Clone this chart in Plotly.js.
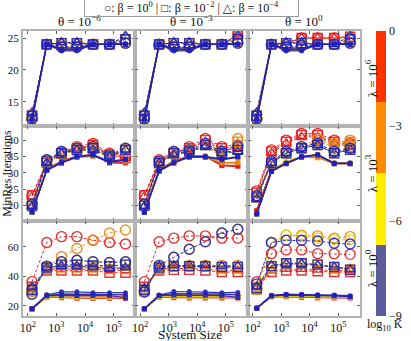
<!DOCTYPE html>
<html>
<head>
<meta charset="utf-8">
<script src="https://cdn.plot.ly/plotly-3.0.1.min.js"></script>
<style>
html, body { margin: 0; padding: 0; background: #fff; }
#chart { width: 411px; height: 341px; }
</style>
</head>
<body>
<div id="chart"></div>
<script>
// system sizes (x) and the colour / marker keys
var sizes = [140, 460, 1500, 5200, 19000, 72000, 260000];
var kLevels = [0, -3, -6, -9];
var kColors = ['#e81818', '#e8880c', '#e6d300', '#2020c0'];
var betaSymbols = ['circle', 'square', 'triangle-up'];
var thetaLabels = ['θ = 10<sup>−6</sup>', 'θ = 10<sup>−3</sup>', 'θ = 10<sup>0</sup>'];
var lambdaLabels = ['λ = 10<sup>6</sup>', 'λ = 10<sup>3</sup>', 'λ = 10<sup>0</sup>'];
var xTickVals = [1e2, 1e3, 1e4, 1e5];
var xTickText = ['10<sup>2</sup>', '10<sup>3</sup>', '10<sup>4</sup>', '10<sup>5</sup>'];
var cbTickVals = [-9, -6, -3, 0];
var cbTickText = ['−9', '−6', '−3', '0'];

// rows of each panel: K=0 (circ, sq, tri), K=-3 (...), K=-6 (...), K=-9 (...)
// "open" = dashed lines / open markers, "fill" = solid lines / filled markers

// lambda = 1e6
var openR1C1 = [
	[12.3, 24, 23.6, 23.6, 24, 24, 24.2], [12.8, 24, 24.2, 24.2, 24, 24, 24.8], [13.3, 24, 24.3, 24.3, 24, 24, 25.3],
	[12.3, 24, 23.6, 23.6, 24, 24, 24.2], [12.8, 24, 24.2, 24.2, 24, 24, 24.8], [13.3, 24, 24.3, 24.3, 24, 24, 25.3],
	[12.3, 24, 23.6, 23.6, 24, 24, 24.2], [12.8, 24, 24.2, 24.2, 24, 24, 24.8], [13.3, 24, 24.3, 24.3, 24, 24, 25.3],
	[12.3, 24, 23.6, 23.6, 24, 24, 24.2], [12.8, 24, 24.2, 24.2, 24, 24, 24.8], [13.3, 24, 24.3, 24.3, 24, 24, 25.3]
];
var fillR1C1 = [
	[12, 24, 23, 23, 24, 24, 24], [12.5, 24, 23.2, 23.2, 24, 24, 24], [12.3, 24, 23.4, 23.4, 24, 24, 24.2],
	[12, 24, 23, 23, 24, 24, 24], [12.5, 24, 23.2, 23.2, 24, 24, 24], [12.3, 24, 23.4, 23.4, 24, 24, 24.2],
	[12, 24, 23, 23, 24, 24, 24], [12.5, 24, 23.2, 23.2, 24, 24, 24], [12.3, 24, 23.4, 23.4, 24, 24, 24.2],
	[12, 24, 23, 23, 24, 24, 24], [12.5, 24, 23.2, 23.2, 24, 24, 24], [12.3, 24, 23.4, 23.4, 24, 24, 24.2]
];
var openR1C2 = [
	[12.3, 24, 23.6, 23.6, 24, 24, 25.5], [12.8, 24, 24.2, 24.2, 24, 24, 25.5], [13.3, 24, 24.3, 24.3, 24, 24, 25.6],
	[12.3, 24, 23.6, 23.6, 24, 24, 24.2], [12.8, 24, 24.2, 24.2, 24, 24, 24.8], [13.3, 24, 24.3, 24.3, 24, 24, 25.3],
	[12.3, 24, 23.6, 23.6, 24, 24, 24.2], [12.8, 24, 24.2, 24.2, 24, 24, 24.8], [13.3, 24, 24.3, 24.3, 24, 24, 25.3],
	[12.3, 24, 23.6, 23.6, 24, 24, 24.2], [12.8, 24, 24.2, 24.2, 24, 24, 24.8], [13.3, 24, 24.3, 24.3, 24, 24, 25.3]
];
var fillR1C2 = [
	[12, 24, 23, 23, 24, 24, 24], [12.5, 24, 23.2, 23.2, 24, 24, 24], [12.3, 24, 23.4, 23.4, 24, 24, 24.2],
	[12, 24, 23, 23, 24, 24, 24], [12.5, 24, 23.2, 23.2, 24, 24, 24], [12.3, 24, 23.4, 23.4, 24, 24, 24.2],
	[12, 24, 23, 23, 24, 24, 24], [12.5, 24, 23.2, 23.2, 24, 24, 24], [12.3, 24, 23.4, 23.4, 24, 24, 24.2],
	[12, 24, 23, 23, 24, 24, 24], [12.5, 24, 23.2, 23.2, 24, 24, 24], [12.3, 24, 23.4, 23.4, 24, 24, 24.2]
];
var openR1C3 = [
	[12.3, 24, 24, 25, 25, 25, 25], [12.8, 24, 24.2, 25, 25, 25, 25.2], [13.3, 24, 24.3, 25, 25, 25, 25.3],
	[12.3, 24, 23.6, 23.8, 24, 24, 24.2], [12.8, 24, 24.2, 24.2, 24, 24, 24.8], [13.3, 24, 24.3, 24.3, 24, 24, 25.3],
	[12.3, 24, 23.6, 23.8, 24, 24, 24.2], [12.8, 24, 24.2, 24.2, 24, 24, 24.8], [13.3, 24, 24.3, 24.3, 24, 24, 25.3],
	[12.3, 24, 23.6, 23.8, 24, 24, 24.2], [12.8, 24, 24.2, 24.2, 24, 24, 24.8], [13.3, 24, 24.3, 24.3, 24, 24, 25.3]
];
var fillR1C3 = [
	[12, 24, 23, 23, 24, 24, 24], [12.5, 24, 23.2, 23.2, 24, 24, 24], [12.3, 24, 23.4, 23.4, 24, 24, 24.2],
	[12, 24, 23, 23, 24, 24, 24], [12.5, 24, 23.2, 23.2, 24, 24, 24], [12.3, 24, 23.4, 23.4, 24, 24, 24.2],
	[12, 24, 23, 23, 24, 24, 24], [12.5, 24, 23.2, 23.2, 24, 24, 24], [12.3, 24, 23.4, 23.4, 24, 24, 24.2],
	[12, 24, 23, 23, 24, 24, 24], [12.5, 24, 23.2, 23.2, 24, 24, 24], [12.3, 24, 23.4, 23.4, 24, 24, 24.2]
];

// lambda = 1e3
var openR2C1 = [
	[23, 33.5, 36.5, 38, 39, 36, 35], [23.2, 33, 36, 37.5, 38.5, 35.5, 34.5], [22.8, 33, 36, 37.5, 38.5, 35.5, 34.5],
	[20.3, 33.8, 36.3, 37.3, 37.8, 35.3, 37.3], [19.8, 33.3, 35.8, 36.8, 37.3, 34.8, 36.8], [19.6, 32.8, 35.8, 36.8, 36.8, 34.8, 36.8],
	[20.5, 34, 36.5, 37.5, 38, 35.5, 37.5], [20, 33.5, 36, 37, 37.5, 35, 37], [19.8, 33, 36, 37, 37, 35, 37],
	[20.5, 34, 36.5, 37.5, 38, 35.5, 37.5], [20, 33.5, 36, 37, 37.5, 35, 37], [19.8, 33, 36, 37, 37, 35, 37]
];
var fillR2C1 = [
	[18.8, 31.2, 33.6, 35.2, 35.6, 33.2, 33.2], [18.5, 31, 33.4, 35, 35.4, 33, 33], [18.6, 31, 33.5, 35, 35.5, 33, 33],
	[18.2, 31, 33.3, 35, 35.2, 34, 33.6], [18, 30.8, 33, 34.8, 35, 33.8, 33.4], [18.1, 30.8, 33.1, 34.9, 35, 33.8, 33.5],
	[18.2, 31, 33.3, 35, 35.6, 33.4, 34.2], [18, 30.8, 33, 34.8, 35.4, 33.2, 34], [18.1, 30.8, 33.1, 34.9, 35.4, 33.2, 34],
	[18.2, 31, 33.3, 35, 35.6, 33.4, 34.2], [18, 30.8, 33, 34.8, 35.4, 33.2, 34], [18.1, 30.8, 33.1, 34.9, 35.4, 33.2, 34]
];
var openR2C2 = [
	[23, 34, 36.5, 38, 40.5, 38, 38.5], [23.2, 33.5, 36, 37.5, 40, 37.5, 38], [22.8, 33, 36, 37.5, 39.5, 37, 37.5],
	[20.5, 33.5, 36.5, 37, 39, 36, 40.5], [20, 33, 36, 36.5, 38.5, 35.5, 39.5], [19.8, 33, 35.5, 36.5, 38, 35, 39],
	[20.5, 33.5, 36.5, 37, 39, 36.5, 38], [20, 33, 36, 36.5, 38.5, 36, 37], [19.8, 33, 35.5, 36.5, 38, 36, 36.5],
	[20.5, 33.5, 36.5, 37, 39, 36.5, 38], [20, 33, 36, 36.5, 38.5, 36, 37], [19.8, 33, 35.5, 36.5, 38, 36, 36.5]
];
var fillR2C2 = [
	[18.6, 31, 33.6, 35.2, 35.2, 32.4, 32.2], [18.4, 30.8, 33.4, 35, 35, 32.2, 32], [18.5, 30.9, 33.5, 35, 35, 32.3, 32],
	[18.1, 30.7, 33.2, 35, 35, 33.2, 33.2], [17.9, 30.5, 33, 34.8, 34.8, 33, 33], [18, 30.6, 33.1, 34.9, 34.9, 33, 33],
	[18.1, 30.7, 33.2, 35, 35, 34.2, 35], [17.9, 30.5, 33, 34.8, 34.8, 34, 34.8], [18, 30.6, 33.1, 34.9, 34.9, 34, 34.8],
	[18.1, 30.7, 33.2, 35, 35, 34.2, 35], [17.9, 30.5, 33, 34.8, 34.8, 34, 34.8], [18, 30.6, 33.1, 34.9, 34.9, 34, 34.8]
];
var openR2C3 = [
	[24.5, 37, 40, 42, 42, 40, 39], [24, 36.5, 39.5, 41.5, 41.5, 39.5, 38.5], [23.5, 36, 39, 41, 41, 39, 38],
	[23, 33.5, 36.5, 38, 40.5, 39, 40], [22.5, 33, 36, 37.5, 40, 38.5, 39.5], [22, 33, 36, 37.5, 39.5, 38, 39],
	[23, 33.5, 36.5, 38, 39, 36.5, 37.5], [22.5, 33, 36, 37.5, 38.5, 36, 37], [22, 33, 36, 37.5, 38.5, 36, 37],
	[23, 33.5, 36.5, 38, 39, 36.5, 37.5], [22.5, 33, 36, 37.5, 38.5, 36, 37], [22, 33, 36, 37.5, 38.5, 36, 37]
];
var fillR2C3 = [
	[18.6, 31, 33.2, 35, 35.6, 33, 33], [18.4, 30.8, 33, 34.8, 35.4, 32.8, 32.8], [18.5, 30.9, 33.1, 34.9, 35.5, 32.9, 32.9],
	[17.6, 30.6, 33, 35, 34.8, 33, 33], [17.4, 30.4, 32.8, 34.8, 34.6, 32.8, 32.8], [17.5, 30.5, 32.9, 34.9, 34.7, 32.9, 32.9],
	[17.6, 30.6, 33.6, 35, 35.6, 33, 33], [17.4, 30.4, 32.8, 34.8, 35.4, 32.8, 32.8], [17.5, 30.5, 32.9, 34.9, 35.5, 32.9, 32.9],
	[17.6, 30.6, 33, 35, 35.6, 33, 33], [17.4, 30.4, 32.8, 34.8, 35.4, 32.8, 32.8], [17.5, 30.5, 32.9, 34.9, 35.5, 32.9, 32.9]
];

// lambda = 1e0
var openR3C1 = [
	[36.5, 63, 67, 67, 64.5, 63, 62], [33, 44, 44, 44, 44, 42.5, 42.5], [32, 45, 45, 45, 45, 44, 44],
	[30, 46, 53.5, 59, 64.5, 69.5, 71.5], [30, 45, 46, 46, 46, 45, 45], [31, 46, 47, 47, 47, 46, 46],
	[28, 47, 50, 51, 50, 49.5, 50], [31, 46, 48, 48, 47.5, 47, 48], [33, 46, 47, 47, 46.5, 45, 46],
	[28, 47, 50, 51, 50, 49.5, 50], [31, 46, 48, 48, 47.5, 47, 48], [33, 46, 47, 47, 46.5, 45, 46]
];
var fillR3C1 = [
	[18.2, 27, 27.5, 27.5, 27, 27, 27], [18, 26, 25.6, 25.2, 25.2, 25.2, 25.2], [18.1, 26.5, 26.5, 26, 26, 26, 26],
	[18.2, 27.2, 28, 28, 27.5, 27.5, 27.5], [18, 26.4, 26, 25.6, 25.6, 25.6, 25.6], [18.1, 26.8, 27, 26.6, 26.6, 26.6, 26.6],
	[18.2, 27.4, 28.5, 28.5, 28, 28, 28], [18, 26.6, 26.4, 26, 26, 26, 26], [18.1, 27, 27.5, 27, 27, 27, 27],
	[18.2, 27.6, 29.6, 29.6, 29, 29, 29], [18, 27, 27, 27, 27, 27, 25.6], [18.1, 27.2, 28, 28, 28, 27.6, 27.6]
];
var openR3C2 = [
	[36.5, 63.5, 66, 67.5, 67.5, 66, 66], [33, 44, 44.5, 44.5, 44, 43, 43], [32, 45, 45.5, 45.5, 45, 44, 44],
	[31, 46, 47, 47.5, 47.5, 47.5, 47.5], [30, 45, 46.5, 46.5, 46.5, 46, 46], [31, 46, 47, 47, 47, 46.5, 46.5],
	[29.5, 47.5, 53, 58.5, 63.5, 69.5, 72], [31, 46, 47, 47, 47, 46.5, 46.5], [32, 47, 47.5, 47.5, 47.5, 47, 47],
	[29.5, 47.5, 53, 58.5, 63.5, 69.5, 72], [31, 46, 47, 47, 47, 46.5, 46.5], [32, 47, 47.5, 47.5, 47.5, 47, 47]
];
var fillR3C2 = [
	[18.2, 26.8, 27.5, 27.5, 27.5, 27.5, 27.5], [18, 26, 25.6, 25.4, 25.4, 25.4, 25.4], [18.1, 26.4, 26.5, 26.3, 26.3, 26.3, 26.3],
	[18.2, 27, 28, 28, 28, 27.8, 27.8], [18, 26.3, 26.2, 26, 26, 26, 26], [18.1, 26.6, 27, 26.8, 26.8, 26.8, 26.8],
	[18.2, 27.2, 28.6, 28.6, 28.4, 28.2, 28], [18, 26.5, 26.6, 26.4, 26.4, 26.4, 26.4], [18.1, 26.8, 27.4, 27.2, 27.2, 27.2, 27.2],
	[18.2, 27.4, 29.8, 29.8, 29.4, 29, 29.2], [18, 27, 27.4, 27.4, 27.2, 27, 25.8], [18.1, 27.2, 28.4, 28.4, 28.2, 28, 27.6]
];
var openR3C3 = [
	[36.5, 55.5, 58, 58, 55.5, 55.5, 55], [32, 43, 44, 44, 43.5, 43, 43], [33, 44, 45, 45, 44.5, 44, 44],
	[33, 63, 68, 68, 67.5, 66, 67], [31, 46, 48, 48.5, 48, 46, 45], [32, 47, 48.5, 49, 48, 46, 45],
	[32, 63, 68, 67, 66, 65, 65], [32, 47, 49, 49, 48, 46.5, 44.5], [33, 47.5, 48.5, 48.5, 47.5, 46.5, 45],
	[35, 63, 64.5, 64.5, 64, 62.5, 62], [32, 47, 49, 49, 48, 46.5, 44.5], [33, 47.5, 48.5, 48.5, 47.5, 46.5, 45]
];
var fillR3C3 = [
	[18.6, 26.6, 26.8, 26.4, 26, 26, 26], [18.4, 26.2, 26.2, 25.8, 25.4, 25.4, 25.4], [18.5, 26.4, 26.5, 26.1, 25.7, 25.7, 25.7],
	[18.6, 26.8, 27.2, 26.8, 26.4, 26.4, 26.4], [18.4, 26.4, 26.6, 26.2, 25.8, 25.8, 25.8], [18.5, 26.6, 26.9, 26.5, 26.1, 26.1, 26.1],
	[18.6, 27, 27.4, 27.2, 26.8, 26.8, 26.6], [18.4, 26.6, 26.8, 26.6, 26.2, 26.2, 26], [18.5, 26.8, 27.1, 26.9, 26.5, 26.5, 26.3],
	[18.6, 27.2, 28, 28, 27.6, 27.4, 27], [18.4, 26.8, 27.4, 27.4, 27, 26.8, 26.2], [18.5, 27, 27.7, 27.7, 27.3, 27.1, 26.6]
];

var openData = [[openR1C1, openR1C2, openR1C3], [openR2C1, openR2C2, openR2C3], [openR3C1, openR3C2, openR3C3]];
var fillData = [[fillR1C1, fillR1C2, fillR1C3], [fillR2C1, fillR2C2, fillR2C3], [fillR3C1, fillR3C2, fillR3C3]];

var yRanges = [[11.2, 26.1], [15.3, 44.3], [13.2, 77.6]];
var yDticks = [5, 5, 20];

var serif = 'Liberation Serif, DejaVu Serif, serif';
var frameColor = '#b3b3b3';
var textColor = '#111';

var data = [];
var layout = {
	width: 411,
	height: 341,
	margin: { l: 23, r: 45, t: 31, b: 25 },
	paper_bgcolor: '#fff',
	plot_bgcolor: '#fff',
	showlegend: false,
	font: { family: serif, size: 12, color: textColor },
	annotations: []
};

for (var r = 0; r < 3; r++) {
	for (var c = 0; c < 3; c++) {
		var idx = r * 3 + c + 1;
		var ax = idx === 1 ? '' : String(idx);
		var openRows = openData[r][c];
		var fillRows = fillData[r][c];
		for (var k = 0; k < kLevels.length; k++) {
			for (var b = 0; b < betaSymbols.length; b++) {
				var s = k * 3 + b;
				data.push({
					x: sizes,
					y: fillRows[s],
					xaxis: 'x' + ax,
					yaxis: 'y' + ax,
					type: 'scatter',
					mode: 'lines+markers',
					opacity: 0.9,
					line: { color: kColors[k], width: 1.2 },
					marker: { symbol: betaSymbols[b], size: 5, color: kColors[k] },
					hoverinfo: 'skip'
				});
				data.push({
					x: sizes,
					y: openRows[s],
					xaxis: 'x' + ax,
					yaxis: 'y' + ax,
					type: 'scatter',
					mode: 'lines+markers',
					opacity: 0.9,
					line: { color: kColors[k], width: 1, dash: '3px,2px' },
					marker: {
						symbol: betaSymbols[b] + '-open',
						size: b === 0 ? 10 : 9,
						color: kColors[k],
						line: { width: 1.4, color: kColors[k] }
					},
					hoverinfo: 'skip'
				});
			}
		}

		layout['xaxis' + ax] = {
			domain: [c / 3, (c + 1) / 3],
			anchor: 'y' + ax,
			type: 'log',
			range: [1.83, 5.76],
			tickvals: xTickVals,
			ticktext: xTickText,
			showticklabels: r === 2,
			ticks: 'inside',
			ticklen: 3,
			tickcolor: '#666',
			showline: true,
			mirror: 'ticks',
			linecolor: frameColor,
			linewidth: 2,
			showgrid: false,
			zeroline: false,
			tickfont: { family: serif, size: 12, color: textColor }
		};
		layout['yaxis' + ax] = {
			domain: [(2 - r) / 3, (3 - r) / 3],
			anchor: 'x' + ax,
			range: yRanges[r],
			tick0: 0,
			dtick: yDticks[r],
			showticklabels: c === 0,
			ticks: 'inside',
			ticklen: 3,
			tickcolor: '#666',
			showline: true,
			mirror: 'ticks',
			linecolor: frameColor,
			linewidth: 2,
			showgrid: false,
			zeroline: false,
			tickfont: { family: serif, size: 11, color: textColor }
		};
	}
}

// dummy trace only to carry the discrete colorbar
data.push({
	x: [sizes[0]],
	y: [fillR1C1[0][0]],
	type: 'scatter',
	mode: 'markers',
	hoverinfo: 'skip',
	marker: {
		size: 1,
		opacity: 0,
		color: [kLevels[0]],
		cmin: -9,
		cmax: 0,
		colorscale: [
			[0, '#5c5c9a'], [0.25, '#5c5c9a'],
			[0.25, '#ffee00'], [0.5, '#ffee00'],
			[0.5, '#ff8c00'], [0.75, '#ff8c00'],
			[0.75, '#ff3300'], [1, '#ff3300']
		],
		showscale: true,
		colorbar: {
			x: 1.0466,
			xanchor: 'left',
			y: 0.5,
			yanchor: 'middle',
			len: 1,
			lenmode: 'fraction',
			thickness: 10,
			outlinewidth: 0,
			xpad: 0,
			ypad: 0,
			tickvals: cbTickVals,
			ticktext: cbTickText,
			ticks: '',
			tickfont: { family: serif, size: 12, color: textColor }
		}
	}
});

// column titles
for (var c2 = 0; c2 < 3; c2++) {
	layout.annotations.push({
		text: thetaLabels[c2],
		xref: 'paper', yref: 'paper',
		x: (c2 + 0.5) / 3, y: 1,
		xanchor: 'center', yanchor: 'bottom',
		showarrow: false,
		font: { family: serif, size: 13, color: textColor }
	});
}
// row labels
for (var r2 = 0; r2 < 3; r2++) {
	layout.annotations.push({
		text: lambdaLabels[r2],
		xref: 'paper', yref: 'paper',
		x: 1.032, y: (2.5 - r2) / 3,
		xanchor: 'center', yanchor: 'middle',
		textangle: -90,
		showarrow: false,
		font: { family: serif, size: 13, color: textColor }
	});
}
layout.annotations.push({
	text: '○: β = 10<sup>0</sup> | □: β = 10<sup>−2</sup> | △: β = 10<sup>−4</sup>',
	xref: 'paper', yref: 'paper',
	x: 0.501, y: 1.082,
	xanchor: 'center', yanchor: 'middle',
	width: 211,
	showarrow: false,
	bordercolor: '#999',
	borderwidth: 1,
	borderpad: 1,
	font: { family: serif, size: 12, color: textColor }
});
layout.annotations.push({
	text: 'MinRes Iterations',
	xref: 'paper', yref: 'paper',
	x: -0.05, y: 0.5,
	xanchor: 'center', yanchor: 'middle',
	textangle: -90,
	showarrow: false,
	font: { family: serif, size: 12, color: textColor }
});
layout.annotations.push({
	text: 'System Size',
	xref: 'paper', yref: 'paper',
	x: 0.496, y: -0.064,
	xanchor: 'center', yanchor: 'middle',
	showarrow: false,
	font: { family: serif, size: 13, color: textColor }
});
layout.annotations.push({
	text: 'log<sub>10</sub> K̄',
	xref: 'paper', yref: 'paper',
	x: 1.075, y: -0.03,
	xanchor: 'center', yanchor: 'middle',
	showarrow: false,
	font: { family: serif, size: 12, color: textColor }
});

var config = {
	displayModeBar: false,
	staticPlot: true
};
Plotly.newPlot(document.getElementById('chart'), data, layout, config);
</script>
</body>
</html>
